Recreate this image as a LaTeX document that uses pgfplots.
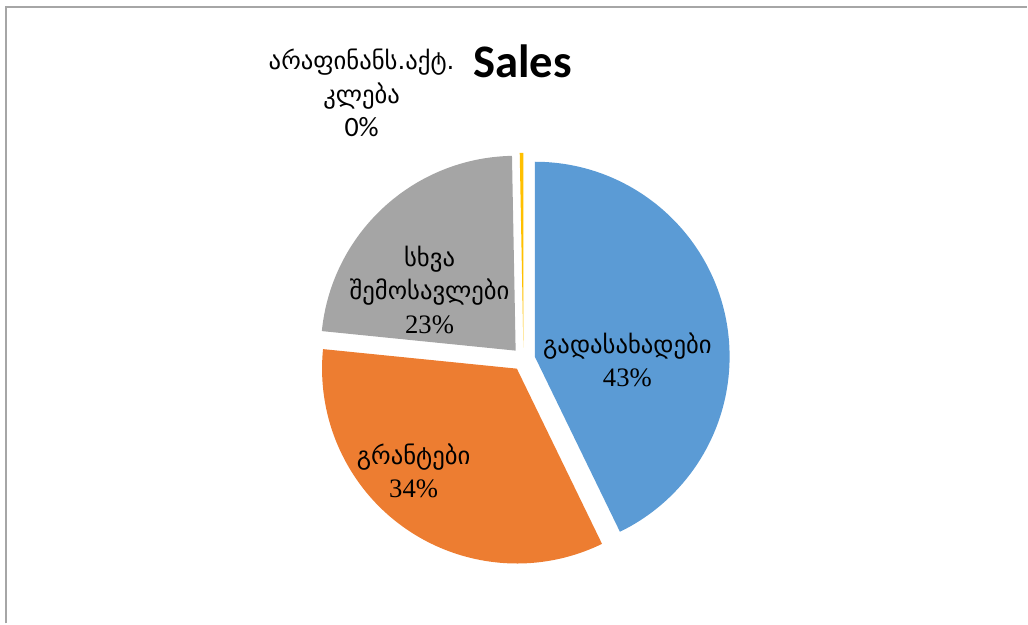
\documentclass[border=0pt]{standalone}
\usepackage{pgfplots}
\pgfplotsset{compat=1.18}
\usepackage{pgfplotstable}
\usepackage{fontspec}
\setmainfont{Liberation Serif}
\newfontfamily\geo{DejaVu Sans}
\newfontfamily\num{Liberation Serif}
\newfontfamily\ttl{Carlito}
\definecolor{cblue}{HTML}{5B9BD5}
\definecolor{corange}{HTML}{ED7D31}
\definecolor{cgray}{HTML}{A5A5A5}
\definecolor{cyellow}{HTML}{FFC000}
\definecolor{frame}{HTML}{A6A6A6}
% shares of the pie, in percent, clockwise from 12 o'clock
\pgfplotstableread{
value
42.8
33.8
23.1
0.3
}\piedata
\newcommand\slice[3]{% #1 cumulative start, #2 value, #3 colour
  \pgfmathsetmacro\sa{90-3.6*#1}%
  \pgfmathsetmacro\ea{90-3.6*(#1+#2)}%
  \pgfmathsetmacro\ma{(\sa+\ea)/2}%
  \fill[#3] (axis cs:524,359.5) ++(\ma:8.7pt) -- ++(\sa:146.25pt)
     arc[start angle=\sa, end angle=\ea, radius=146.25pt] -- cycle;%
}
\begin{document}
\begin{tikzpicture}
\begin{axis}[
  width=771pt, height=468pt, scale only axis,
  xmin=0, xmax=1028, ymin=0, ymax=624, y dir=reverse,
  hide axis, clip=false]
\pgfplotsextra{%
  \path (axis cs:0,0) (axis cs:1028,624);
  \draw[frame, line width=1.5pt] (axis cs:6.5,624) -- (axis cs:6.5,7.5) -- (axis cs:1028,7.5);
  \pgfplotstablegetelem{0}{value}\of\piedata \let\va\pgfplotsretval
  \pgfplotstablegetelem{1}{value}\of\piedata \let\vb\pgfplotsretval
  \pgfplotstablegetelem{2}{value}\of\piedata \let\vc\pgfplotsretval
  \pgfplotstablegetelem{3}{value}\of\piedata \let\vd\pgfplotsretval
  \pgfmathsetmacro\cb{\va}%
  \pgfmathsetmacro\cc{\va+\vb}%
  \pgfmathsetmacro\cd{\va+\vb+\vc}%
  \slice{0}{\va}{cblue}
  \slice{\cb}{\vb}{corange}
  \slice{\cc}{\vc}{cgray}
  \slice{\cd}{\vd}{cyellow}
  \node[font=\ttl\bfseries\fontsize{35}{40}\selectfont] at (axis cs:523,61) {Sales};
  \node[align=center, font=\fontsize{18.5}{25}\selectfont] at (axis cs:628,360)
     {{\geo გადასახადები}\\{\num\fontsize{20}{25}\selectfont 43\%}};
  \node[align=center, font=\fontsize{18.5}{25}\selectfont] at (axis cs:414,471)
     {{\geo გრანტები}\\{\num\fontsize{20}{25}\selectfont 34\%}};
  \node[align=center, font=\fontsize{18.5}{25}\selectfont] at (axis cs:430,290)
     {{\geo სხვა}\\{\geo შემოსავლები}\\{\num\fontsize{20}{25}\selectfont 23\%}};
  \node[align=center, font=\fontsize{18.5}{25}\selectfont] at (axis cs:362,93)
     {{\geo არაფინანს.აქტ.}\\{\geo კლება}\\{\ttl\fontsize{21}{25}\selectfont 0\%}};
}
\end{axis}
\end{tikzpicture}
\end{document}
